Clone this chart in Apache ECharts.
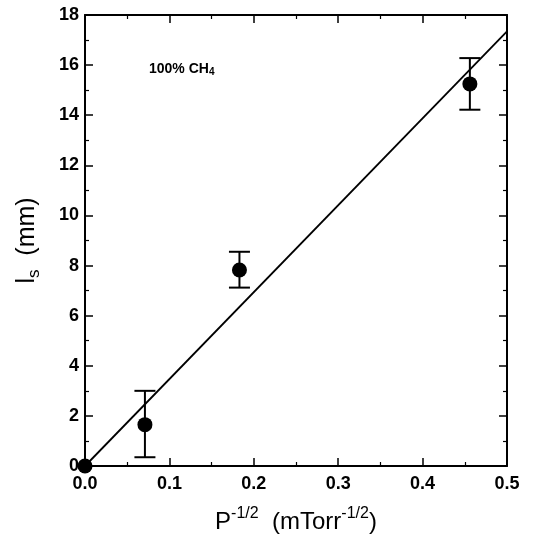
<!DOCTYPE html>
<html><head><meta charset="utf-8">
<script src="https://cdn.jsdelivr.net/npm/echarts@6/dist/echarts.min.js"></script>
<style>html,body{margin:0;padding:0;background:#fff}#c{width:533px;height:539px}</style>
</head><body><div id="c"></div>
<script>
const pointsX = [0.0, 0.071, 0.183, 0.456];
const pointsY = [0.0, 1.65, 7.82, 15.25];
const errLow = [null, 0.35, 7.12, 14.22];
const errHigh = [null, 3.0, 8.55, 16.28];
const fitX = [0.0, 0.5];
const fitY = [0.0, 17.35];
const xTicks = [0.0, 0.1, 0.2, 0.3, 0.4, 0.5];
const yTicks = [0, 2, 4, 6, 8, 10, 12, 14, 16, 18];

const chart = echarts.init(document.getElementById('c'));
const font = 'Liberation Sans, Arial, sans-serif';
const axisCommon = {
  axisLine: {show: true, onZero: false, lineStyle: {color: '#000', width: 2}},
  axisTick: {show: true, inside: true, length: 8, lineStyle: {color: '#000', width: 1.5}},
  minorTick: {show: true, splitNumber: 2, length: 4, lineStyle: {color: '#000', width: 1.2}},
  splitLine: {show: false}
};
const errData = pointsX.map((x, i) => [x, errLow[i], errHigh[i]]).filter(d => d[1] !== null);
chart.setOption({
  animation: false,
  grid: {left: 85, right: 26, top: 15, bottom: 72},
  xAxis: [
    Object.assign({type: 'value', min: 0, max: 0.5, interval: 0.1, position: 'bottom',
      axisLabel: {color: '#000', fontSize: 18, fontWeight: 'bold', fontFamily: font, margin: 9,
        formatter: v => v.toFixed(1)},
      name: '{a|P}{s|-1/2}{a|  (mTorr}{s|-1/2}{a|)}', nameLocation: 'middle', nameGap: 40,
      nameTextStyle: {rich: {
        a: {fontSize: 24, fontFamily: font, color: '#000', verticalAlign: 'bottom'},
        s: {fontSize: 16, fontFamily: font, color: '#000', verticalAlign: 'top', padding: [0,0,12,0]}
      }}}, axisCommon),
    Object.assign({type: 'value', min: 0, max: 0.5, interval: 0.1, position: 'top',
      axisLabel: {show: false}}, axisCommon)
  ],
  yAxis: [
    Object.assign({type: 'value', min: 0, max: 18, interval: 2, position: 'left',
      axisLabel: {color: '#000', fontSize: 18, fontWeight: 'bold', fontFamily: font, margin: 6},
      name: '{a|l}{s|s}{a|  (mm)}', nameLocation: 'middle', nameGap: 42, nameRotate: 90,
      nameTextStyle: {rich: {
        a: {fontSize: 25, fontFamily: font, color: '#000'},
        s: {fontSize: 17, fontFamily: font, color: '#000', padding: [14,0,0,0]}
      }}}, axisCommon),
    Object.assign({type: 'value', min: 0, max: 18, interval: 2, position: 'right',
      axisLabel: {show: false}}, axisCommon)
  ],
  graphic: [{
    type: 'text', left: 149, top: 62,
    style: {text: '{a|100% CH}{s|4}', rich: {
      a: {fontSize: 14, fontWeight: 'bold', fontFamily: font, fill: '#000'},
      s: {fontSize: 10, fontWeight: 'bold', fontFamily: font, fill: '#000', padding: [7,0,0,0]}
    }}
  }],
  series: [
    {type: 'line', data: fitX.map((x, i) => [x, fitY[i]]), symbol: 'none',
      lineStyle: {color: '#000', width: 1.8}, z: 2},
    {type: 'custom', data: errData, z: 3,
      renderItem: (params, api) => {
        const x = api.value(0);
        const lo = api.coord([x, api.value(1)]);
        const hi = api.coord([x, api.value(2)]);
        const w = 10.5;
        const st = {stroke: '#000', lineWidth: 2};
        return {type: 'group', children: [
          {type: 'line', shape: {x1: lo[0], y1: lo[1], x2: hi[0], y2: hi[1]}, style: st},
          {type: 'line', shape: {x1: lo[0]-w, y1: lo[1], x2: lo[0]+w, y2: lo[1]}, style: st},
          {type: 'line', shape: {x1: hi[0]-w, y1: hi[1], x2: hi[0]+w, y2: hi[1]}, style: st}
        ]};
      }},
    {type: 'scatter', data: pointsX.map((x, i) => [x, pointsY[i]]), symbol: 'circle',
      symbolSize: 15, itemStyle: {color: '#000', opacity: 1}, z: 4, clip: false}
  ]
});
</script></body></html>
